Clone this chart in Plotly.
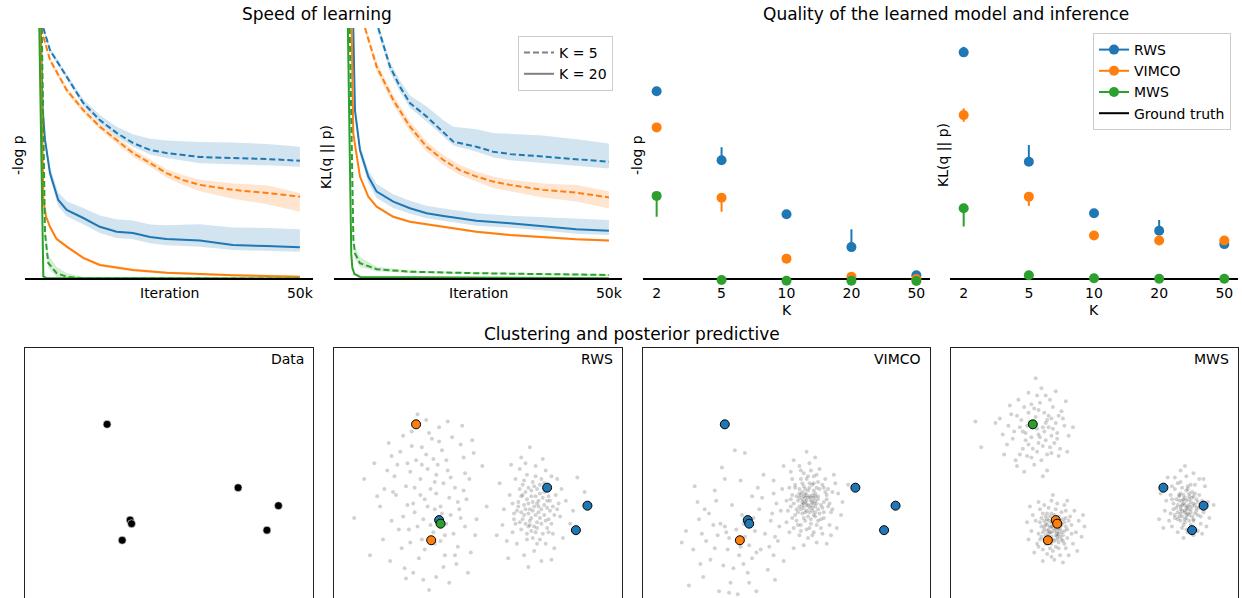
import plotly.graph_objects as go

W, H = 1242, 598
FONT = "DejaVu Sans"
BLUE, ORANGE, GREEN = "#1f77b4", "#ff7f0e", "#2ca02c"
BAND = {BLUE: "rgba(31,119,180,0.2)", ORANGE: "rgba(255,127,14,0.2)", GREEN: "rgba(44,160,44,0.2)"}
GROUND_TRUTH = 0.0

# ---------------- Speed of learning : -log p (x in thousands of iterations) ----------------
lp_rws5_x = [1.0, 2.27, 5.46, 8.63, 11.8, 15.0, 18.1, 21.4, 24.5, 30.9, 37.2, 43.7, 50]
lp_rws5_y = [10.0, 9.12, 8.06, 7.01, 6.33, 5.82, 5.42, 5.14, 5.02, 4.86, 4.82, 4.78, 4.71]
lp_rws5_up = [0.1, 0.1, 0.12, 0.15, 0.2, 0.25, 0.35, 0.45, 0.5, 0.6, 0.62, 0.6, 0.56]
lp_rws5_dn = [0.1, 0.1, 0.1, 0.12, 0.13, 0.15, 0.15, 0.18, 0.2, 0.25, 0.25, 0.25, 0.24]

lp_rws20_x = [0.5, 0.88, 1.32, 2.27, 3.85, 5.46, 8.63, 11.8, 15.0, 18.1, 21.4, 24.5, 30.9, 37.2, 43.6, 50]
lp_rws20_y = [10.0, 6.73, 5.54, 4.22, 3.15, 2.75, 2.43, 2.08, 1.88, 1.83, 1.67, 1.59, 1.53, 1.35, 1.31, 1.26]
lp_rws20_up = [0.1, 0.15, 0.2, 0.25, 0.3, 0.35, 0.4, 0.45, 0.5, 0.5, 0.5, 0.55, 0.65, 0.7, 0.72, 0.72]
lp_rws20_dn = [0.1, 0.1, 0.15, 0.2, 0.25, 0.25, 0.25, 0.25, 0.25, 0.25, 0.25, 0.25, 0.25, 0.2, 0.18, 0.17]

lp_vimco5_x = [0.55, 2.27, 5.46, 8.63, 11.8, 15.0, 18.1, 21.4, 24.5, 27.7, 30.9, 37.2, 43.7, 50]
lp_vimco5_y = [10.0, 8.73, 7.53, 6.73, 6.07, 5.54, 5.02, 4.62, 4.22, 3.94, 3.75, 3.55, 3.43, 3.28]
lp_vimco5_up = [0.1, 0.1, 0.12, 0.12, 0.12, 0.12, 0.15, 0.15, 0.15, 0.2, 0.2, 0.25, 0.3, 0.15]
lp_vimco5_dn = [0.1, 0.1, 0.12, 0.12, 0.12, 0.15, 0.15, 0.15, 0.18, 0.2, 0.25, 0.35, 0.45, 0.6]

lp_vimco20_x = [0.45, 0.8, 1.0, 1.5, 2.27, 3.5, 5.46, 8.63, 11.8, 18.1, 24.5, 30.9, 37.2, 50]
lp_vimco20_y = [10.0, 6.3, 3.15, 2.5, 2.08, 1.6, 1.29, 0.84, 0.56, 0.36, 0.25, 0.2, 0.15, 0.09]
lp_vimco20_up = [0.05, 0.05, 0.06, 0.06, 0.07, 0.07, 0.07, 0.07, 0.06, 0.06, 0.05, 0.05, 0.05, 0.05]
lp_vimco20_dn = [0.05, 0.05, 0.06, 0.06, 0.07, 0.07, 0.07, 0.07, 0.06, 0.06, 0.05, 0.05, 0.05, 0.05]

lp_mws5_x = [0.7, 1.32, 1.95, 3.55, 5.46, 8.63, 50]
lp_mws5_y = [10.0, 1.82, 0.63, 0.23, 0.09, 0.03, 0.02]
lp_mws5_up = [0.1, 0.3, 0.35, 0.25, 0.15, 0.05, 0.02]
lp_mws5_dn = [0.1, 0.2, 0.2, 0.15, 0.08, 0.03, 0.02]

lp_mws20_x = [0.23, 1.0, 1.5, 50]
lp_mws20_y = [10.0, 0.1, 0.04, 0.02]
lp_mws20_up = [0.02, 0.02, 0.02, 0.02]
lp_mws20_dn = [0.02, 0.02, 0.02, 0.02]

# ---------------- Speed of learning : KL(q || p) ----------------
kl_rws5_x = [5.95, 8.19, 10.1, 12.0, 15.2, 18.4, 20.3, 24.7, 27.9, 31.1, 37.4, 43.8, 50]
kl_rws5_y = [10.0, 8.46, 7.66, 7.01, 6.47, 5.82, 5.47, 5.27, 5.07, 4.98, 4.87, 4.77, 4.67]
kl_rws5_up = [0.2, 0.2, 0.25, 0.3, 0.4, 0.5, 0.6, 0.7, 0.75, 0.8, 0.85, 0.8, 0.73]
kl_rws5_dn = [0.2, 0.2, 0.2, 0.2, 0.2, 0.15, 0.15, 0.2, 0.22, 0.25, 0.27, 0.27, 0.27]

kl_rws20_x = [1.18, 1.5, 2.46, 4.05, 5.65, 8.82, 12.0, 15.2, 18.4, 24.7, 31.1, 37.4, 43.8, 50]
kl_rws20_y = [10.0, 6.73, 5.14, 4.08, 3.48, 3.08, 2.82, 2.62, 2.51, 2.32, 2.22, 2.11, 1.98, 1.92]
kl_rws20_up = [0.1, 0.15, 0.2, 0.25, 0.3, 0.3, 0.3, 0.3, 0.3, 0.3, 0.3, 0.35, 0.4, 0.43]
kl_rws20_dn = [0.1, 0.15, 0.2, 0.25, 0.25, 0.25, 0.22, 0.2, 0.2, 0.2, 0.18, 0.18, 0.18, 0.17]

kl_vimco5_x = [3.42, 5.65, 8.82, 12.0, 15.2, 18.4, 21.5, 24.7, 27.9, 31.1, 37.4, 43.8, 50]
kl_vimco5_y = [10.0, 8.46, 7.13, 6.07, 5.27, 4.74, 4.34, 4.08, 3.88, 3.75, 3.55, 3.44, 3.25]
kl_vimco5_up = [0.15, 0.2, 0.2, 0.2, 0.2, 0.2, 0.2, 0.2, 0.2, 0.2, 0.25, 0.3, 0.25]
kl_vimco5_dn = [0.15, 0.2, 0.2, 0.2, 0.2, 0.2, 0.2, 0.2, 0.25, 0.25, 0.3, 0.35, 0.44]

kl_vimco20_x = [0.88, 1.18, 2.46, 4.05, 5.65, 8.82, 12.0, 18.4, 24.7, 31.1, 37.4, 43.8, 50]
kl_vimco20_y = [10.0, 5.80, 4.08, 3.28, 2.88, 2.48, 2.28, 2.08, 1.88, 1.75, 1.66, 1.58, 1.53]
kl_vimco20_up = [0.05] * 13
kl_vimco20_dn = [0.05] * 13

kl_mws5_x = [0.5, 1.2, 1.5, 2.46, 5.65, 12.0, 24.7, 50]
kl_mws5_y = [10.0, 1.6, 1.02, 0.63, 0.39, 0.29, 0.23, 0.16]
kl_mws5_up = [0.1, 0.2, 0.25, 0.25, 0.1, 0.05, 0.04, 0.04]
kl_mws5_dn = [0.1, 0.2, 0.2, 0.15, 0.08, 0.05, 0.04, 0.04]

kl_mws20_x = [0.15, 0.8, 1.0, 1.4, 2.5, 50]
kl_mws20_y = [10.0, 1.0, 0.45, 0.2, 0.08, 0.03]
kl_mws20_up = [0.02] * 6
kl_mws20_dn = [0.02] * 6

ITER_RANGE = [-2.5, 52.5]
ITER_TICKS = [50]
ITER_TICKTEXT = ["50k"]

# ---------------- Quality of learned model and inference ----------------
K_LABELS = ["2", "5", "10", "20", "50"]

q_lp_rws = [7.48, 4.73, 2.58, 1.27, 0.15]
q_lp_rws_up = [0.1, 0.52, 0.05, 0.71, 0.05]
q_lp_rws_dn = [0.1, 0.15, 0.05, 0.15, 0.05]
q_lp_vimco = [6.04, 3.24, 0.81, 0.09, 0.0]
q_lp_vimco_up = [0.15, 0.1, 0.05, 0.05, 0.05]
q_lp_vimco_dn = [0.1, 0.56, 0.05, 0.05, 0.05]
q_lp_mws = [3.31, -0.04, -0.07, -0.07, -0.08]
q_lp_mws_up = [0.1, 0.02, 0.02, 0.02, 0.02]
q_lp_mws_dn = [0.83, 0.02, 0.02, 0.02, 0.02]

q_kl_rws = [9.03, 4.67, 2.62, 1.92, 1.39]
q_kl_rws_up = [0.22, 0.67, 0.05, 0.43, 0.1]
q_kl_rws_dn = [0.1, 0.15, 0.05, 0.1, 0.1]
q_kl_vimco = [6.53, 3.28, 1.73, 1.53, 1.53]
q_kl_vimco_up = [0.27, 0.1, 0.05, 0.05, 0.05]
q_kl_vimco_dn = [0.27, 0.37, 0.05, 0.05, 0.05]
q_kl_mws = [2.82, 0.15, 0.03, 0.01, 0.01]
q_kl_mws_up = [0.1, 0.05, 0.02, 0.02, 0.02]
q_kl_mws_dn = [0.73, 0.05, 0.02, 0.02, 0.02]

# ---------------- Clustering and posterior predictive ----------------
data_x = [-4.3, 4.8, 7.6, 6.8, -2.7, -2.6, -3.25]
data_y = [4.7, 0.3, -0.95, -2.65, -1.95, -2.2, -3.35]
assign_rws = [1, 0, 0, 0, 0, 2, 1]     # 0 = blue, 1 = orange, 2 = green
assign_vimco = [0, 0, 0, 0, 0, 0, 1]
assign_mws = [2, 0, 0, 0, 1, 1, 1]

rws_cloud_a = [(-3.3,0.2),(-2.1,1.5),(-4.5,-0.8),(-1.2,-1.8),(-5.6,1.9),(-3.9,3.1),(-2.6,-3.4),(-0.6,0.9),(-6.8,-1.0),(-4.1,-4.6),(-1.8,3.8),(-3.0,-1.2),(-5.0,0.4),(-2.4,0.6),(-0.2,-3.0),(-7.9,0.9),(-3.6,5.0),(-1.0,2.4),(-4.8,-2.6),(-2.9,-5.9),(-6.2,3.4),(-3.5,1.6),(-2.0,-0.4),(-5.3,-3.9),(0.6,-1.0),(-4.3,2.2),(-1.5,-5.0),(-3.8,-1.9),(-6.0,-2.0),(-2.5,2.9),(-0.8,-0.5),(-4.6,4.2),(-3.1,-2.8),(-5.7,-0.2),(-1.9,1.0),(-3.4,-6.8),(-7.2,2.0),(-2.7,4.5),(-4.0,0.9),(-0.4,3.6),(-5.1,-5.3),(-2.2,-2.2),(-3.7,-0.5),(-1.4,-3.8),(-6.5,0.2),(-4.4,-1.4),(-2.8,1.9),(-0.9,-2.4),(-5.4,2.8),(-3.2,3.7),(-1.6,0.3),(-4.9,-0.9),(-2.3,-4.4),(-8.6,-1.8),(-3.9,-3.3),(0.3,1.8),(-4.2,5.4),(-1.1,4.6),(-6.6,-3.3),(-2.0,-6.3),(-5.8,1.1),(-3.0,0.7),(-0.1,-1.9),(-4.7,1.4),(-2.6,-1.0),(-7.5,-4.4),(-1.3,-1.2),(-3.6,2.6),(-5.0,-6.0),(-2.9,-0.1),
               (-4.0,-0.2),(-2.2,2.2),(-5.2,-1.7),(-1.7,-2.9),(-3.4,4.1),(-6.3,1.5),(-0.5,-4.2),(-2.4,-5.2),(-4.6,3.2),(-1.0,0.1),(-3.7,-4.0),(-5.5,-2.6),(-2.9,1.2),(-7.0,-0.3),(-0.3,2.7),(-3.8,-6.1),(-4.4,0.3),(-1.9,-1.6),(-6.0,2.5),(-3.1,2.3),(-2.3,-3.0),(-4.7,-3.5),(-1.2,3.3),(-5.9,0.0),(-3.5,-1.0),(-0.7,-5.6),(-2.7,3.5),(-4.9,2.0),(-1.6,-4.4),(-3.3,-2.3),(-6.1,-4.8),(-2.1,4.9),(-4.2,-2.4),(-0.9,1.3),(-5.2,3.9),(-2.5,-1.5),(-3.9,1.9),(-1.4,-0.7),(-4.5,-5.6),(-3.0,-3.6)]
rws_cloud_b = [(3.9,-1.0),(4.5,-0.4),(3.2,-1.6),(4.1,-2.1),(3.5,0.3),(5.0,-1.3),(2.8,-0.7),(4.4,0.9),(3.0,-2.6),(5.4,-0.2),(3.7,-0.3),(4.8,-2.5),(2.5,-1.9),(4.2,-1.4),(3.4,1.2),(5.7,-1.7),(3.1,0.5),(4.6,-0.9),(2.2,-0.2),(3.8,-3.2),(4.9,0.4),(3.3,-1.2),(4.0,1.8),(2.7,-3.6),(5.2,-2.9),(3.6,-2.3),(4.3,-0.1),(1.8,-1.2),(6.1,-0.6),(3.9,-4.1),(2.9,1.6),(4.7,-3.6),(3.5,-0.8),(5.5,0.9),(2.4,-2.8),(4.1,0.2),(3.0,2.4),(6.4,-2.2),(1.5,0.6),(4.4,-4.8),(3.7,-1.8),(5.0,-0.6),(2.6,0.9),(4.0,-2.8),(3.2,-4.4),(5.8,0.2),(4.5,2.3),(2.0,-3.4),(3.4,-2.9),(4.9,-1.9),(6.6,-1.3),(3.6,3.1),(2.3,1.9),(5.3,-3.9),(4.2,-0.6),(3.1,-0.2),(1.7,-2.3),(4.7,1.5),(3.8,0.7),(5.9,-3.2),(2.7,-1.3),(4.3,-3.3),(3.5,-5.2),(7.4,0.0),(4.6,0.0),(3.3,2.0),(2.1,-4.6),(5.1,-4.7),(4.0,-1.6),(3.6,-1.2),(4.4,-1.2),(3.2,-0.9),(4.8,-1.1),(3.9,-2.4),(3.7,0.1),(4.1,-0.8),(2.9,-2.1),(5.1,1.1),(6.9,1.0),(1.3,-3.0),
               (3.8,-1.3),(4.2,-1.0),(3.4,-0.5),(4.6,-1.6),(3.1,-1.9),(4.0,-0.3),(3.6,-2.0),(4.9,-0.3),(2.8,-1.0),(4.4,-2.2),(3.3,0.0),(5.2,-1.0),(3.0,-1.4),(4.7,-2.0),(3.9,0.4),(4.1,-2.5),(2.6,-2.2),(5.5,-1.2),(3.5,-1.5),(4.3,0.5),(2.4,-0.8),(4.8,-0.6),(3.7,-2.7),(5.1,-2.2),(3.2,0.8),(4.5,-2.9),(2.9,0.2),(5.6,-0.8),(3.4,-3.3),(4.0,1.1),(3.8,-0.7),(4.3,-1.8),(3.0,-0.3),(4.6,0.6),(3.5,-2.4),(5.3,-1.6),(2.5,-1.5),(4.1,-3.6),(3.3,-2.2),(4.9,-2.8)]

vimco_cloud_a = [(1.5,-0.4),(2.1,0.3),(0.9,-1.0),(1.8,-1.3),(1.1,0.6),(2.6,-0.7),(0.4,-0.2),(1.9,1.1),(0.7,-2.0),(2.9,0.2),(1.3,-0.1),(2.4,-1.9),(0.1,-1.3),(1.7,-0.9),(1.0,1.5),(3.2,-1.2),(0.6,0.5),(2.2,-0.3),(-0.3,0.2),(1.4,-2.6),(2.7,0.9),(0.8,-1.4),(1.6,2.0),(0.2,-2.8),(3.0,-2.3),(1.2,-1.8),(2.0,-0.6),(-0.7,-0.8),(3.6,-0.1),(1.5,-3.2),(0.3,1.4),(2.5,-2.9),(1.1,-0.5),(3.3,1.2),(0.0,-2.1),(1.9,0.1),(0.5,2.2),(3.8,-1.6),(-0.9,0.8),(2.1,-3.5),(1.3,-1.4),(2.8,-0.2),(0.4,0.9),(1.7,-2.2),(0.9,-3.0),(3.4,0.6),(2.0,2.4),(-0.5,-2.4),(1.0,-2.3),(2.6,-1.4),(3.9,-0.7),(1.4,2.8),(-0.2,1.8),(3.1,-3.0),(1.8,-0.2),(0.7,-0.3),(-1.0,-1.5),(2.3,1.6),(1.6,0.6),(3.5,-2.5),(0.3,-1.0),(1.9,-2.8),(1.2,-3.7),(4.3,0.5),(2.2,0.7),(0.9,1.8),(-0.8,-3.1),(2.8,-3.6),(1.6,-1.1),(1.2,-0.8),(2.0,-1.0),(0.8,-0.6),(2.4,-0.9),(1.5,-1.7),(1.3,0.2),(1.7,-0.6),(0.6,-1.6),(2.7,0.0),(1.1,0.0),(2.3,-1.5),(0.2,0.3),(1.9,-1.6),(1.4,0.9),(2.5,0.5),(0.5,-2.5),(3.0,-0.8),(1.0,-1.2),(2.1,-2.3),(1.8,0.5),(0.9,0.2),(1.6,-0.3),(2.0,-0.1),(1.2,-0.3),(1.4,-0.9),(1.7,-0.4),(1.3,-0.7),(1.9,-0.8),(2.2,-1.2),(1.0,-0.2),(1.5,0.1),
                 (1.4,-0.6),(1.8,-0.7),(1.1,-0.9),(2.2,-0.5),(0.9,-0.4),(1.6,0.3),(2.0,-1.4),(1.2,0.4),(2.5,-1.1),(0.7,-1.2),(1.7,-1.9),(2.3,0.2),(0.5,-0.8),(1.3,-2.0),(2.8,-0.5),(1.0,0.9),(1.9,0.6),(0.3,-0.5),(2.6,-1.8),(1.5,1.1),(0.8,-2.3),(2.1,1.2),(3.1,-1.4),(0.6,0.3),(1.6,-2.5),(2.4,-2.5),(0.0,-0.6),(1.2,1.3),(2.9,-1.0),(1.8,-3.0),(0.4,-1.8),(3.2,0.0),(1.4,-1.3),(2.0,-1.7),(1.1,-1.5),(2.6,0.3),(0.9,-0.1),(1.7,1.5),(2.2,-2.0),(1.0,-2.7),(1.5,-0.9),(1.9,-0.4),(1.2,-1.1),(2.1,-0.8),(1.6,-1.4),(1.3,-0.4),(1.8,-1.1),(1.4,-0.2),(2.0,-0.3),(1.1,-0.7)]
vimco_cloud_b = [(-3.6,2.9),(-2.9,2.7),(-4.3,0.9),(-6.2,-0.7),(-5.4,-1.5),(-7.0,-2.7),(-4.6,-2.2),(-3.1,-1.6),(-2.4,-0.3),(-1.6,1.2),(-0.9,-0.1),(-5.9,-2.9),(-4.0,-3.2),(-2.2,-2.7),(-1.1,-2.0),(-6.5,-4.0),(-5.0,-3.9),(-3.3,-4.4),(-1.8,-4.0),(-0.6,-3.4),(-4.4,-5.1),(-2.7,-5.6),(-5.8,-5.9),(-3.9,-6.3),(-1.3,-5.4),(-6.8,-6.5),(-2.1,-6.9),(-4.9,-0.6),(-3.5,-2.6),(-2.6,-3.7),(-5.3,-4.7),(-0.2,-4.8),(-3.0,-5.0),(-4.7,-6.9),(-1.5,-2.9),(-6.1,-1.9),(-3.8,-0.9),(-2.0,0.3),(-0.4,-1.3),(-4.1,-4.0),(-5.6,-3.4),(-2.9,-3.1),(-3.4,-7.1),(0.5,-3.9),(-7.3,-3.5),(-4.5,1.7),(-1.9,-1.2),(-5.1,-2.3),(-3.2,-3.8),(-4.2,-2.8),(-2.4,-4.6),(-0.8,-6.1),(-6.4,0.4),
                 (-3.0,-2.2),(-4.8,-3.0),(-2.3,-1.8),(-3.7,-5.3),(-5.7,-1.2),(-1.2,-3.8),(-4.3,-2.4),(-2.6,-6.3),(-6.0,-5.0),(-1.7,-0.4),(-3.2,0.8),(-5.0,0.1),(-0.9,-4.4),(-4.0,-7.0),(-2.1,-4.2)]

mws_cloud_a = [(-4.0,4.4),(-3.2,5.3),(-4.8,3.6),(-3.6,3.2),(-5.1,5.0),(-2.6,4.1),(-4.4,6.1),(-3.0,2.7),(-5.6,4.2),(-3.9,5.7),(-2.3,5.6),(-4.7,2.5),(-3.4,4.8),(-6.1,3.3),(-2.8,3.4),(-5.3,6.4),(-3.7,7.2),(-4.2,1.9),(-2.1,4.6),(-6.6,5.1),(-4.5,4.9),(-3.1,6.4),(-5.0,3.0),(-2.5,2.5),(-3.8,3.8),(-6.9,4.8),(-4.1,7.9),(-1.8,3.9),(-5.5,2.2),(-3.3,1.5),(-4.6,5.5),(-2.0,6.3),(-5.9,6.0),(-3.5,4.2),(-4.9,1.4),(-1.5,4.5),(-8.3,4.9),(-7.9,3.1),(-2.9,5.9),(-4.3,3.0),(-3.0,3.9),(-5.2,4.5),(-3.7,2.2),(-2.4,3.0),(-6.3,2.6),(-4.0,6.7),(-2.7,7.0),(-4.8,4.1),(-3.4,3.6),(-5.7,3.7),(-1.9,2.8),(-4.4,2.4),(-3.2,4.5),(-6.0,4.6),(-2.2,5.1),(-4.6,6.9),(-3.6,1.1),(-5.4,1.8),(-3.9,3.4),(-2.6,3.7),(-4.1,5.2),(-3.3,5.0),(-4.9,5.9),(-2.9,4.4),(-5.8,5.4),
               (-3.9,4.0),(-4.3,4.7),(-3.5,5.5),(-4.6,3.3),(-3.1,3.1),(-5.0,4.2),(-3.8,6.2),(-2.7,4.8),(-4.4,3.8),(-5.4,5.3),(-3.3,2.6),(-4.2,5.8),(-2.5,5.3),(-5.2,2.6),(-3.6,4.5),(-4.7,4.6),(-3.0,5.1),(-4.0,2.8),(-6.4,4.0),(-3.4,6.7)]
mws_cloud_b = [(-2.9,-2.5),(-2.4,-2.0),(-3.4,-3.0),(-2.6,-3.1),(-3.3,-1.9),(-2.1,-2.7),(-3.7,-2.4),(-2.8,-1.6),(-3.1,-3.5),(-2.2,-1.9),(-3.9,-2.9),(-2.5,-2.5),(-3.0,-2.1),(-1.9,-3.2),(-3.6,-1.5),(-2.7,-3.8),(-3.5,-3.3),(-2.3,-1.4),(-1.6,-2.3),(-4.1,-2.0),(-2.9,-4.1),(-3.2,-1.1),(-1.7,-1.7),(-4.0,-3.6),(-2.0,-3.9),(-3.8,-1.2),(-2.6,-0.8),(-1.3,-2.8),(-4.4,-2.7),(-3.3,-4.3),(-2.4,-4.4),(-1.5,-3.6),(-3.6,-4.0),(-4.3,-1.6),(-2.1,-0.9),(-1.1,-2.0),(-3.0,-0.6),(-4.6,-3.3),(-2.8,-4.7),(-1.8,-4.4),(-3.9,-0.7),(-0.9,-3.1),(-2.3,-3.3),(-3.1,-2.8),(-2.7,-2.2),(-3.5,-2.6),(-2.5,-1.7),(-2.0,-2.4),(-3.3,-2.3),(-2.6,-2.9),(-3.0,-3.1),(-2.2,-3.0),(-3.7,-3.1),(-2.8,-2.7),(-3.2,-2.0),(-2.4,-2.6),(-3.4,-1.7),(-2.0,-1.3),(-3.8,-2.1),(-1.4,-1.3),(-4.2,-4.2),(-0.7,-2.4),(-2.9,-0.2),(-4.7,-2.1),(-1.2,-4.1),(-3.6,-4.8),(-2.2,-4.9),(-0.8,-1.6),(-4.5,-1.0),(-1.9,-0.6),(-3.0,-4.5),(-2.5,-3.5),(-3.5,-0.9),(-1.6,-2.9),(-2.1,-3.6),(-3.9,-3.8),(-2.7,-1.2),(-1.8,-2.0),(-3.1,-3.9),(-2.3,-2.2),(-2.9,-3.3),(-3.2,-2.6),(-2.6,-2.0),(-3.0,-1.5),(-2.4,-3.1),
               (-2.8,-2.3),(-3.1,-2.4),(-2.6,-2.7),(-3.0,-2.8),(-2.5,-2.2),(-3.3,-2.7),(-2.7,-3.0),(-3.2,-3.2),(-2.3,-2.8),(-3.4,-2.2),(-2.9,-1.9),(-2.4,-2.4),(-3.6,-2.8),(-2.1,-2.1),(-3.0,-3.6),(-2.6,-1.8),(-3.5,-2.0),(-2.2,-3.4),(-3.8,-3.3),(-2.8,-3.4),(-3.3,-1.5),(-1.9,-2.6),(-3.7,-1.8),(-2.5,-3.9),(-3.1,-1.7),(-2.0,-1.8),(-3.4,-3.6),(-2.7,-2.5),(-3.0,-2.4),(-2.5,-2.9),(-3.2,-2.9),(-2.9,-2.1),(-2.6,-3.3),(-3.5,-2.4),(-2.3,-2.3)]
mws_cloud_c = [(6.3,-0.9),(6.8,-0.4),(5.8,-1.4),(6.6,-1.6),(5.9,-0.3),(7.1,-1.1),(5.5,-0.8),(6.4,0.1),(6.0,-2.0),(7.3,-0.2),(6.2,-0.5),(6.9,-1.9),(5.3,-1.5),(6.5,-1.2),(5.8,0.6),(7.6,-1.4),(5.6,0.2),(6.7,-0.7),(5.0,-0.6),(6.1,-2.5),(7.0,0.5),(6.3,-1.4),(6.4,1.1),(5.4,-2.4),(7.4,-2.2),(6.0,-1.0),(6.8,0.0),(4.9,-1.3),(7.9,-0.7),(6.5,-2.8),(5.6,1.0),(7.2,-2.7),(6.2,-0.2),(7.7,0.4),(5.2,-2.0),(6.6,-0.1),(6.0,1.5),(8.0,-1.8),(4.6,-0.1),(6.9,-3.0),(6.4,-1.8),(7.1,-0.5),(5.4,0.4),(6.7,-2.3),(5.8,-2.8),(7.6,0.9),(6.9,1.3),(4.8,-2.5),(6.1,-1.7),(7.0,-1.5),(8.3,-0.9),(6.3,1.8),(5.1,1.0),(7.5,-2.9),(6.6,-0.9),(5.9,-0.6),(4.5,-1.9),(7.3,0.9),(6.5,0.4),(7.8,-2.4),(5.7,-1.1),(6.8,-2.5),(6.2,-3.2),(5.3,-0.2),(7.0,-0.9),(6.1,-1.3),(6.7,-1.2),(6.4,-0.6),(6.0,-0.1),(6.6,-0.5),(5.9,-1.7),(7.2,-1.6),(6.3,-2.1),(6.9,-0.3),(5.6,-1.8),(6.5,-1.5),(6.1,0.3),(7.3,-1.1),
               (6.2,-0.8),(6.5,-1.0),(6.0,-1.2),(6.7,-1.4),(6.3,-0.4),(6.9,-0.8),(5.8,-0.9),(6.4,-1.6),(6.1,-0.6),(6.8,-1.7),(5.7,-0.5),(6.6,-0.3),(6.0,-1.5),(7.1,-1.3),(6.3,-1.9),(5.9,-0.2),(6.9,-2.0),(6.5,0.2),(5.5,-1.2),(7.2,-0.7),(6.2,-2.3),(6.7,0.5),(5.6,-1.6),(7.4,-1.7),(6.4,-1.1),(6.1,-0.9),(6.8,-1.0),(6.3,-1.3),(5.8,-1.9),(7.0,-0.1),(6.6,-2.0),(5.4,-0.5),(6.0,0.7),(7.5,-0.6),(6.4,-2.6)]

CLUSTER_COLORS = [BLUE, ORANGE, GREEN]

# ---------------- layout geometry (pixels) ----------------
def px_x(p):
    return p / W

def px_y(p):
    return 1 - p / H

TOP_TOP, TOP_BOT = 28, 283
TOP_YRANGE = [-0.16, 10]
BOT_TOP = 348
top_cols = [(25, 313), (334, 622), (643, 930), (950, 1238)]
bot_cols = [(25, 313), (334, 622), (643, 930), (951, 1238)]
K_RANGE = [-0.21, len(K_LABELS) - 1 + 0.21]
SC_XRANGE = [-10, 10]
SC_YRANGE = [10 - (H - BOT_TOP) / 14.4, 10]

fig = go.Figure()


def add_curve(ax, x, y, up, dn, color, dash):
    xa, ya = ("x" + ax, "y" + ax) if ax != "1" else ("x", "y")
    hi = [a + b for a, b in zip(y, up)]
    lo = [a - b for a, b in zip(y, dn)]
    fig.add_trace(go.Scatter(x=list(x) + list(x)[::-1], y=hi + lo[::-1], fill="toself",
                             fillcolor=BAND[color], line=dict(width=0), mode="lines",
                             showlegend=False, hoverinfo="skip", xaxis=xa, yaxis=ya))
    fig.add_trace(go.Scatter(x=x, y=y, mode="lines", line=dict(color=color, width=2, dash=dash),
                             showlegend=False, xaxis=xa, yaxis=ya))


DASH = "6px,3px"
for ax, series in [("1", [(lp_rws5_x, lp_rws5_y, lp_rws5_up, lp_rws5_dn, BLUE, DASH),
                          (lp_rws20_x, lp_rws20_y, lp_rws20_up, lp_rws20_dn, BLUE, "solid"),
                          (lp_vimco5_x, lp_vimco5_y, lp_vimco5_up, lp_vimco5_dn, ORANGE, DASH),
                          (lp_vimco20_x, lp_vimco20_y, lp_vimco20_up, lp_vimco20_dn, ORANGE, "solid"),
                          (lp_mws5_x, lp_mws5_y, lp_mws5_up, lp_mws5_dn, GREEN, DASH),
                          (lp_mws20_x, lp_mws20_y, lp_mws20_up, lp_mws20_dn, GREEN, "solid")]),
                   ("2", [(kl_rws5_x, kl_rws5_y, kl_rws5_up, kl_rws5_dn, BLUE, DASH),
                          (kl_rws20_x, kl_rws20_y, kl_rws20_up, kl_rws20_dn, BLUE, "solid"),
                          (kl_vimco5_x, kl_vimco5_y, kl_vimco5_up, kl_vimco5_dn, ORANGE, DASH),
                          (kl_vimco20_x, kl_vimco20_y, kl_vimco20_up, kl_vimco20_dn, ORANGE, "solid"),
                          (kl_mws5_x, kl_mws5_y, kl_mws5_up, kl_mws5_dn, GREEN, DASH),
                          (kl_mws20_x, kl_mws20_y, kl_mws20_up, kl_mws20_dn, GREEN, "solid")])]:
    for s in series:
        add_curve(ax, *s)
    xa, ya = ("x" + ax, "y" + ax) if ax != "1" else ("x", "y")
    fig.add_trace(go.Scatter(x=ITER_RANGE, y=[GROUND_TRUTH] * 2, mode="lines",
                             line=dict(color="black", width=2), showlegend=False, xaxis=xa, yaxis=ya))

# legend for line styles (panel 2)
fig.add_trace(go.Scatter(x=[None], y=[None], mode="lines", name="K = 5",
                         line=dict(color="gray", width=2, dash=DASH), legend="legend", xaxis="x2", yaxis="y2"))
fig.add_trace(go.Scatter(x=[None], y=[None], mode="lines", name="K = 20",
                         line=dict(color="gray", width=2), legend="legend", xaxis="x2", yaxis="y2"))

# dot plots
k_pos = list(range(len(K_LABELS)))
for ax, groups in [("3", [(q_lp_rws, q_lp_rws_up, q_lp_rws_dn, BLUE),
                          (q_lp_vimco, q_lp_vimco_up, q_lp_vimco_dn, ORANGE),
                          (q_lp_mws, q_lp_mws_up, q_lp_mws_dn, GREEN)]),
                   ("4", [(q_kl_rws, q_kl_rws_up, q_kl_rws_dn, BLUE),
                          (q_kl_vimco, q_kl_vimco_up, q_kl_vimco_dn, ORANGE),
                          (q_kl_mws, q_kl_mws_up, q_kl_mws_dn, GREEN)])]:
    fig.add_trace(go.Scatter(x=K_RANGE, y=[GROUND_TRUTH] * 2, mode="lines",
                             line=dict(color="black", width=2), showlegend=False,
                             xaxis="x" + ax, yaxis="y" + ax))
    for vals, up, dn, color in groups:
        fig.add_trace(go.Scatter(x=k_pos, y=vals, mode="markers", cliponaxis=False,
                                 marker=dict(color=color, size=10),
                                 error_y=dict(type="data", symmetric=False, array=up, arrayminus=dn,
                                              thickness=2, width=0, color=color),
                                 showlegend=False, xaxis="x" + ax, yaxis="y" + ax))

for name, color in [("RWS", BLUE), ("VIMCO", ORANGE), ("MWS", GREEN)]:
    fig.add_trace(go.Scatter(x=[None], y=[None], mode="lines+markers", name=name,
                             line=dict(color=color, width=2), marker=dict(color=color, size=10),
                             legend="legend2", xaxis="x4", yaxis="y4"))
fig.add_trace(go.Scatter(x=[None], y=[None], mode="lines", name="Ground truth",
                         line=dict(color="black", width=2), legend="legend2", xaxis="x4", yaxis="y4"))

# scatter panels
fig.add_trace(go.Scatter(x=data_x, y=data_y, mode="markers",
                         marker=dict(color="black", size=8, line=dict(color="white", width=0.6)),
                         showlegend=False, xaxis="x5", yaxis="y5"))
for ax, clouds, assign in [("6", [rws_cloud_a, rws_cloud_b], assign_rws),
                           ("7", [vimco_cloud_a, vimco_cloud_b], assign_vimco),
                           ("8", [mws_cloud_a, mws_cloud_b, mws_cloud_c], assign_mws)]:
    for cloud in clouds:
        fig.add_trace(go.Scatter(x=[p[0] for p in cloud], y=[p[1] for p in cloud], mode="markers",
                                 marker=dict(color="rgba(0,0,0,0.18)", size=4),
                                 showlegend=False, xaxis="x" + ax, yaxis="y" + ax))
    for i in range(len(data_x)):
        fig.add_trace(go.Scatter(x=[data_x[i]], y=[data_y[i]], mode="markers",
                                 marker=dict(color=CLUSTER_COLORS[assign[i]], size=9,
                                             line=dict(color="black", width=1)),
                                 showlegend=False, xaxis="x" + ax, yaxis="y" + ax))

# axes
layout = dict(width=W, height=H, margin=dict(l=0, r=0, t=0, b=0),
              paper_bgcolor="white", plot_bgcolor="white",
              font=dict(family=FONT, size=14, color="black"))
tick_font = dict(family=FONT, size=14, color="black")
for i, (l, r) in enumerate(top_cols, start=1):
    key = "" if i == 1 else str(i)
    xd = dict(domain=[px_x(l), px_x(r)], anchor="y" + key, showgrid=False, zeroline=False,
              showline=False, ticks="", tickfont=tick_font)
    if i <= 2:
        xd.update(range=ITER_RANGE, tickvals=ITER_TICKS, ticktext=ITER_TICKTEXT)
    else:
        xd.update(range=K_RANGE, tickvals=k_pos, ticktext=K_LABELS)
    layout["xaxis" + key] = xd
    layout["yaxis" + key] = dict(domain=[px_y(TOP_BOT), px_y(TOP_TOP)], anchor="x" + key,
                                 range=TOP_YRANGE, showgrid=False, zeroline=False,
                                 showline=False, showticklabels=False, ticks="")
for i, (l, r) in enumerate(bot_cols, start=5):
    key = str(i)
    layout["xaxis" + key] = dict(domain=[px_x(l), px_x(r)], anchor="y" + key, range=SC_XRANGE,
                                 side="top", showline=True, linecolor="#222", linewidth=1,
                                 showgrid=False, zeroline=False, showticklabels=False, ticks="")
    layout["yaxis" + key] = dict(domain=[0, px_y(BOT_TOP)], anchor="x" + key, range=SC_YRANGE,
                                 showline=True, mirror=True, linecolor="#222", linewidth=1,
                                 showgrid=False, zeroline=False, showticklabels=False, ticks="")

layout["legend"] = dict(x=px_x(613), y=px_y(36), xanchor="right", yanchor="top",
                        bgcolor="white", bordercolor="#cccccc", borderwidth=1,
                        font=dict(family=FONT, size=14, color="black"))
layout["legend2"] = dict(x=px_x(1231), y=px_y(33), xanchor="right", yanchor="top",
                         bgcolor="white", bordercolor="#cccccc", borderwidth=1,
                         font=dict(family=FONT, size=14, color="black"))

ann = []


def text(x, y, s, size=14, angle=0, xanchor="center", xref="paper"):
    ann.append(dict(x=x, y=y, xref=xref, yref="paper", text=s, showarrow=False, textangle=angle,
                    xanchor=xanchor, yanchor="middle", font=dict(family=FONT, size=size, color="black")))


text(px_x(317), px_y(14), "Speed of learning", size=17)
text(px_x(946), px_y(14), "Quality of the learned model and inference", size=17)
text(px_x(632), px_y(334), "Clustering and posterior predictive", size=17)
text(0.5, px_y(293), "Iteration", xref="x domain")
text(0.5, px_y(293), "Iteration", xref="x2 domain")
text(0.5, px_y(310), "K", xref="x3 domain")
text(0.5, px_y(310), "K", xref="x4 domain")
text(px_x(18), px_y(155), "-log p", angle=-90)
text(px_x(327), px_y(157), "KL(q || p)", angle=-90)
text(px_x(637), px_y(155), "-log p", angle=-90)
text(px_x(944), px_y(155), "KL(q || p)", angle=-90)
for ax, s in [("5", "Data"), ("6", "RWS"), ("7", "VIMCO"), ("8", "MWS")]:
    text(0.976, px_y(359), s, xanchor="right", xref="x" + ax + " domain")
layout["annotations"] = ann

fig.update_layout(**layout)
fig.write_html("out.html", config={"displayModeBar": False},
               post_script="document.body.style.margin='0';document.body.style.overflow='hidden';")
